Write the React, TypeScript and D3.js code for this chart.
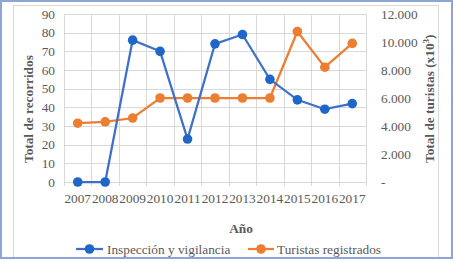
import React from "react";
import * as d3 from "d3";

const years = ["2007","2008","2009","2010","2011","2012","2013","2014","2015","2016","2017"];
const inspeccion = [0, 0, 76, 70, 23, 74, 79, 55, 44, 39, 42];
const turistas = [4200, 4300, 4570, 6000, 6000, 6000, 6000, 6000, 10750, 8200, 9900];
const leftTicks = [0, 10, 20, 30, 40, 50, 60, 70, 80, 90];
const rightTicks = [0, 2000, 4000, 6000, 8000, 10000, 12000];
const seriesNames = ["Inspección y vigilancia", "Turistas registrados"];

const W = 454, H = 262;
const left = 64, right = 366, top = 14, bottom = 182;
const FONT = "Liberation Serif";
const BLUE_LINE = "#3F70C8";
const BLUE_MARK = "#1F66C8";
const ORANGE = "#ED7D31";
const GRID = "#D9D9D9";
const TXT = "#595959";

export default function App() {
  const x = d3.scaleBand<string>().domain(years).range([left, right]);
  const yL = d3.scaleLinear().domain([0, 90]).range([bottom, top]);
  const yR = d3.scaleLinear().domain([0, 12000]).range([bottom, top]);
  const cx = (d: string) => (x(d) as number) + x.bandwidth() / 2;

  const lineL = d3.line<number>().x((_, i) => cx(years[i])).y((d) => yL(d));
  const lineR = d3.line<number>().x((_, i) => cx(years[i])).y((d) => yR(d));

  const fmtR = (v: number) => (v === 0 ? "-" : d3.format(",")(v).replace(/,/g, "."));
  const boundaries = years.map((y) => x(y) as number).concat([right]);

  return (
    <svg width={W} height={H} style={{ position: "absolute", left: 0, top: 0 }}>
      <rect x={0} y={0} width={W} height={H} fill="#fff" />
      <rect x={13.5} y={5.5} width={425} height={270} fill="none" stroke={GRID} strokeWidth={1} />
      {leftTicks.map((t) => (
        <line key={"h" + t} x1={left} x2={right} y1={Math.round(yL(t)) + 0.5} y2={Math.round(yL(t)) + 0.5} stroke={GRID} strokeWidth={1} />
      ))}
      {boundaries.map((b, i) => (
        <line key={"v" + i} x1={Math.round(b) + 0.5} x2={Math.round(b) + 0.5} y1={top} y2={bottom + 4} stroke={GRID} strokeWidth={1} />
      ))}
      <g fontFamily={FONT} fontSize={13.3} fill={TXT}>
        {leftTicks.map((t) => (
          <text key={"lt" + t} fontFamily={FONT} x={55} y={yL(t)} dy="0.35em" textAnchor="end">{t}</text>
        ))}
        {rightTicks.map((t) => (
          <text key={"rt" + t} fontFamily={FONT} x={381} y={yR(t)} dy="0.35em" textAnchor="start">{fmtR(t)}</text>
        ))}
        {years.map((yv) => (
          <text key={"x" + yv} fontFamily={FONT} x={cx(yv)} y={203} textAnchor="middle">{yv}</text>
        ))}
        <text fontFamily={FONT} transform={`translate(33,163) rotate(-90)`} textAnchor="start" fontWeight="bold">Total de recorridos</text>
        <text fontFamily={FONT} transform={`translate(434,163) rotate(-90)`} textAnchor="start" fontWeight="bold">
          Total de turistas (x10<tspan fontSize={9} dy={-5}>3</tspan><tspan dy={5}>)</tspan>
        </text>
        <text fontFamily={FONT} x={241} y={233} textAnchor="middle" fontWeight="bold">Año</text>
      </g>
      <path d={lineR(turistas) || ""} fill="none" stroke={ORANGE} strokeWidth={2.25} />
      <path d={lineL(inspeccion) || ""} fill="none" stroke={BLUE_LINE} strokeWidth={2.25} />
      {turistas.map((v, i) => (
        <circle key={"o" + i} cx={cx(years[i])} cy={yR(v)} r={4.8} fill={ORANGE} />
      ))}
      {inspeccion.map((v, i) => (
        <circle key={"b" + i} cx={cx(years[i])} cy={yL(v)} r={4.8} fill={BLUE_MARK} />
      ))}
      <line x1={76} x2={103} y1={249} y2={249} stroke={BLUE_LINE} strokeWidth={2.25} />
      <circle cx={89.5} cy={249} r={4.8} fill={BLUE_MARK} />
      <text fontFamily={FONT} x={107} y={254} fontSize={13.3} fill={TXT}>{seriesNames[0]}</text>
      <line x1={248} x2={274} y1={249} y2={249} stroke={ORANGE} strokeWidth={2.25} />
      <circle cx={261} cy={249} r={4.8} fill={ORANGE} />
      <text fontFamily={FONT} x={277} y={254} fontSize={13.3} fill={TXT}>{seriesNames[1]}</text>
      <rect x={0} y={258} width={W} height={H - 258} fill="#fff" />
      <rect x={1} y={1} width={451} height={257} fill="none" stroke="#8EA6D6" strokeWidth={2} />
    </svg>
  );
}
